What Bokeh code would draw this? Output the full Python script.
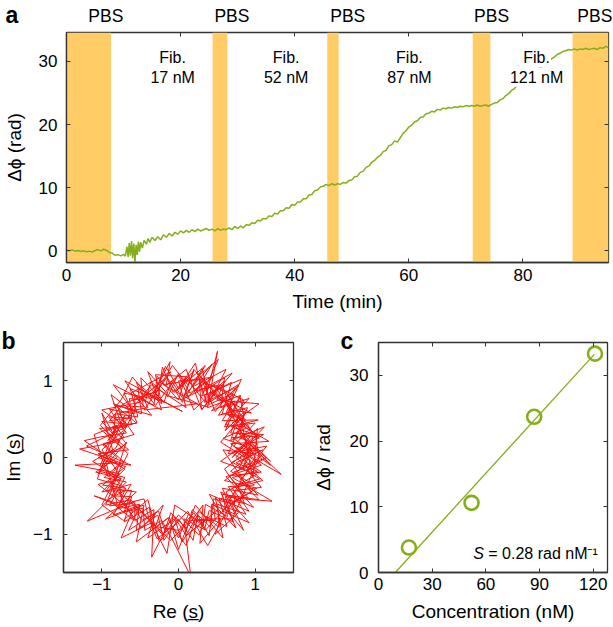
from bokeh.plotting import figure
from bokeh.models import (Range1d, LinearAxis, FixedTicker, BoxAnnotation, Label, Title,
                          CustomJSTickFormatter)
from bokeh.layouts import column, row
from bokeh.embed import file_html
from bokeh.resources import INLINE

FONT = "Liberation Sans"
GREEN = "#84AE1A"
ORANGE = "#FFCC66"
RED = "#FF1010"
FRAME = "#333333"

# ---------------- panel a data ----------------
time_min = [0.0, 0.5, 1.0, 1.5, 2.0, 2.5, 3.0, 3.5, 4.0, 4.5, 5.0, 5.5, 6.0, 6.5, 7.0, 7.5,
            8.0, 8.5, 9.0, 9.5, 10.0, 10.3, 10.6, 10.8, 11.0, 11.2, 11.4, 11.6, 11.8, 12.0,
            12.2, 12.4, 12.6, 12.8, 13.0, 13.3, 13.6, 14.0, 14.3, 14.6, 15.0, 15.5, 16.0,
            16.5, 17.0, 17.5, 18.0, 18.5, 19.0, 19.5, 20.0, 20.5, 21.0, 21.5, 22.0, 22.5,
            23.0, 23.5, 24.0, 24.5, 25.0, 25.5, 26.0, 26.5, 27.0, 27.5, 28.0, 28.5, 29.0,
            29.5, 30.0, 30.5, 31.0, 31.5, 32.0, 32.5, 33.0, 33.5, 34.0, 34.5, 35.0, 35.5,
            36.0, 36.5, 37.0, 37.5, 38.0, 38.5, 39.0, 39.5, 40.0, 40.5, 41.0, 41.5, 42.0,
            42.5, 43.0, 43.5, 44.0, 44.5, 45.0, 45.5, 46.0, 46.5, 47.0, 47.5, 48.0, 48.5,
            49.0, 49.5, 50.0, 50.5, 51.0, 51.5, 52.0, 52.5, 53.0, 53.5, 54.0, 54.5, 55.0,
            55.5, 56.0, 56.5, 57.0, 57.5, 58.0, 58.5, 59.0, 59.5, 60.0, 60.5, 61.0, 61.5,
            62.0, 62.5, 63.0, 63.5, 64.0, 64.5, 65.0, 65.5, 66.0, 66.5, 67.0, 67.5, 68.0,
            68.5, 69.0, 69.5, 70.0, 70.5, 71.0, 71.5, 72.0, 72.5, 73.0, 73.5, 74.0, 74.5,
            75.0, 75.5, 76.0, 76.5, 77.0, 77.5, 78.0, 78.5, 79.0, 79.5, 80.0, 80.5, 81.0,
            81.5, 82.0, 82.5, 83.0, 83.5, 84.0, 84.5, 85.0, 85.5, 86.0, 86.5, 87.0, 87.5,
            88.0, 88.5, 89.0, 89.5, 90.0, 90.5, 91.0, 91.5, 92.0, 92.5, 93.0, 93.5, 94.0,
            94.5, 95.0]
phase_rad = [0.05, -0.05, 0.1, -0.1, 0.0, -0.15, -0.05, -0.2, -0.1, -0.25, 0.0, 0.15, -0.05,
             0.2, 0.05, -0.3, -0.4, -0.75, -0.65, -0.85, -0.6, -0.9, 0.6, -1.0, 1.2, -0.8,
             1.5, -1.2, 1.1, -1.9, 0.9, -0.7, 1.4, -0.2, 1.3, 0.4, 1.6, 1.0, 1.9, 1.3, 2.1,
             1.6, 2.2, 1.7, 2.5, 2.1, 2.7, 2.3, 2.9, 2.6, 3.1, 2.8, 3.2, 2.9, 3.3, 3.0, 3.4,
             3.1, 3.3, 3.5, 3.2, 3.4, 3.1, 3.5, 3.2, 3.4, 3.3, 3.6, 3.3, 3.8, 3.5, 3.9, 3.6,
             4.1, 4.0, 4.4, 4.3, 4.8, 4.7, 5.1, 5.0, 5.5, 5.4, 5.9, 5.8, 6.3, 6.3, 6.8, 6.7,
             7.3, 7.2, 7.7, 7.7, 8.2, 8.2, 8.8, 8.9, 9.5, 9.6, 10.1, 10.2, 10.5, 10.3, 10.6,
             10.4, 10.6, 10.5, 10.8, 10.7, 11.1, 11.2, 11.7, 11.8, 12.4, 12.6, 13.2, 13.4,
             14.0, 14.3, 14.8, 15.1, 15.7, 15.9, 16.6, 16.8, 17.4, 17.2, 17.9, 18.6, 19.0,
             19.6, 19.9, 20.4, 20.6, 21.1, 21.2, 21.7, 21.8, 22.1, 22.0, 22.4, 22.3, 22.6,
             22.5, 22.7, 22.6, 22.8, 22.7, 22.9, 22.8, 23.0, 22.9, 23.0, 22.9, 23.1, 22.9,
             23.0, 23.1, 22.9, 23.2, 23.4, 23.5, 23.9, 24.1, 24.6, 24.9, 25.4, 25.7, 26.2,
             26.5, 26.9, 27.2, 27.6, 27.9, 28.3, 28.6, 29.0, 29.3, 29.7, 30.0, 30.4, 30.7,
             31.1, 31.3, 31.6, 31.7, 31.9, 31.8, 32.0, 31.8, 32.0, 31.9, 32.1, 31.9, 32.0,
             32.1, 31.9, 32.2, 32.1, 32.4, 32.2]

pbs_start = [0.0, 25.6, 45.7, 71.2, 88.7]
pbs_end = [7.8, 28.2, 47.7, 74.3, 95.0]
pbs_label_x = [6.9, 29.0, 49.3, 74.5, 92.6]
fib_label_x = [18.6, 38.5, 60.1, 82.4]
fib_conc_text = ["17 nM", "52 nM", "87 nM", "121 nM"]

# ---------------- panel b data ----------------
re_s = [0.85, 1.03, 0.75, 0.87, 0.65, 0.71, 0.40, 0.36, 0.15, 0.00, -0.14, -0.36, -0.43, -0.64,
        -0.61, -0.91, -0.71, -0.99, -0.80, -1.08, -0.75, -0.87, -0.61, -0.71, -0.38, -0.34,
        -0.14, 0.00, 0.13, 0.32, 0.35, 0.64, 0.57, 0.91, 0.66, 1.08,
        0.70, 1.11, 0.68, 0.78, 0.57, 0.69, 0.38, 0.31, 0.07, -0.09, -0.19, -0.49, -0.46,
        -0.67, -0.61, -1.00, -0.77, -1.29, -0.75, -0.97, -0.68, -1.19, -0.57, -0.57, -0.32,
        -0.35, -0.07, 0.09, 0.18, 0.42, 0.43, 0.74, 0.57, 1.04, 0.72, 1.00,
        1.15, 0.79, 0.94, 1.20, 0.70, 1.06, 0.69, 1.04, 0.57, 0.74, 0.43, 0.77, 0.34, 0.55,
        0.23, 0.44, 0.07, 0.20, -0.07, -0.21, -0.27, -0.53, -0.48, -0.80, -0.69, -1.03,
        -0.74, -1.05, -0.69, -0.99, -0.69, -0.80, -0.51, -0.55, -0.27, -0.19, 0.00, 0.19,
        0.26, 0.53, 0.51, 0.88, 0.65, 0.99, 0.68,
        1.00, 0.74, 1.34, 0.80, 0.86, 0.61, 0.81, 0.38, 0.51, 0.34, 0.09, 0.00, -0.28,
        -0.32, -0.57, -0.57, -0.90, -0.68, -1.01, -1.23, -0.80, -1.35, -0.77, -0.95, -0.61,
        -0.71, -0.46, -0.44, -0.22, -0.09, 0.16, 0.07, 0.34, 0.40, 0.71, 0.61, 0.95, 1.22,
        0.70, 1.03,
        0.75, 1.10, 0.90, 0.68, 1.18, 0.86, 0.61, 0.92, 0.55, 0.60, 0.31, 0.22, 0.00,
        -0.17, -0.31, -0.19, -0.63, -0.53, -0.82, -0.85, -1.00, -0.85, -1.03, -0.70, -0.90,
        -0.60, -0.48, -0.26, -0.17, 0.00, 0.27, 0.36, 0.63, 0.53, 0.86, 0.77, 1.06, 0.70,
        0.95, 0.84, 0.97, 0.70, 1.03, 0.97, 0.82, 0.69, 0.60, 0.27, 0.30, 0.10, -0.16,
        -0.11, -0.36, -0.71, -0.54, -0.86, -0.68, -0.95, -1.06, -0.77, -0.73, -0.45, -0.38,
        -0.28, -0.08, 0.10, 0.22, 0.48, 0.45, 0.73, 0.74, 1.08, 0.89, 1.00]
im_s = [0.00, 0.18, 0.27, 0.50, 0.55, 0.84, 0.69, 0.99, 0.84, 1.10, 0.79, 0.99, 0.74, 0.77,
        0.51, 0.53, 0.26, 0.17, 0.00, -0.19, -0.27, -0.50, -0.51, -0.84, -0.65, -0.94,
        -0.79, -1.05, -0.74, -0.89, -0.61, -0.77, -0.48, -0.53, -0.24, -0.19,
        0.06, 0.30, 0.32, 0.55, 0.57, 0.98, 0.82, 1.16, 0.75, 1.00, 0.72, 1.04, 0.66,
        0.67, 0.43, 0.47, 0.21, 0.11, -0.07, -0.26, -0.32, -0.83, -0.57, -0.82, -0.68,
        -1.30, -0.75, -1.00, -0.68, -0.91, -0.61, -0.74, -0.40, -0.49, -0.19, -0.09,
        0.00, -0.14, 0.17, -0.10, 0.26, 0.28, 0.40, 0.49, 0.48, 0.74, 0.61, 0.92, 0.72, 0.95,
        0.87, 1.22, 0.80, 1.13, 0.85, 1.18, 0.75, 0.91, 0.57, 0.68, 0.40, 0.38,
        0.13, 0.00, -0.12, -0.36, -0.40, -0.67, -0.61, -0.95, -0.75, -1.08, -0.80, -1.08,
        -0.70, -0.91, -0.61, -0.74, -0.38, -0.36, -0.18,
        0.09, 0.13, -0.22, 0.29, 0.60, 0.35, 0.81, 0.65, 1.39, 0.73, 1.05, 0.75, 1.06,
        0.68, 0.82, 0.57, 0.63, 0.32, 0.27, 0.22, -0.07, -0.10, -0.21, -0.44, -0.43,
        -0.71, -0.66, -0.95, -0.82, -1.05, -1.55, -0.80, -0.94, -0.69, -0.84, -0.51, -0.55, -0.57,
        -0.26, -0.18,
        -0.07, 0.10, 0.00, 0.18, 0.21, 0.40, 0.43, 0.77, 0.65, 1.04, 0.85, 1.23, 0.90,
        1.19, 0.85, 0.72, 0.90, 0.53, 0.57, 0.31, 0.58, 0.07, -0.18, -0.26, -0.63,
        -0.60, -0.82, -0.70, -0.98, -0.75, -1.01, -0.77, -0.90, -0.53, -0.60, -0.36, -0.28, -0.06,
        0.08, -0.15, 0.26, 0.00, 0.38, -0.26, 0.48, 0.58, 0.86, 1.01, 0.63, 1.15, 0.94,
        1.25, 0.77, 0.84, 0.45, 0.40, 0.18, 0.00, -0.28, -0.36, -0.61, -0.54, -0.82,
        -1.06, -0.90, -1.15, -0.82, -0.82, -0.54, -0.61, -0.43, -0.39, -0.16, 0.00]
# further passes of the trajectory (Re, Im)
scribble_more = [
    (0.62, 0.70), (0.95, 0.35), (0.55, 0.95), (0.30, 0.62), (0.70, 1.10), (0.10, 0.78),
    (0.45, 1.05), (-0.20, 0.95), (0.25, 0.70), (-0.45, 0.62), (-0.10, 1.12), (-0.60, 0.85),
    (-0.35, 0.55), (-0.85, 0.70), (-0.55, 0.45), (-0.95, 0.35), (-0.65, 0.10), (-1.05, 0.05),
    (-0.70, -0.15), (-1.00, -0.45), (-0.62, -0.35), (-0.85, -0.75), (-0.50, -0.62),
    (-0.65, -0.95), (-0.30, -0.72), (-0.40, -1.05), (-0.05, -0.80), (0.05, -1.10),
    (0.25, -0.75), (0.40, -1.02), (0.45, -0.60), (0.75, -0.92), (0.55, -0.45), (0.98, -0.65),
    (0.62, -0.25), (1.08, -0.10), (0.72, 0.15), (1.00, 0.45), (0.60, 0.40), (0.80, 0.80),
    (0.85, 0.55), (0.55, 0.20), (0.95, -0.05), (0.60, -0.30), (1.02, -0.40), (0.70, -0.60),
    (0.92, -0.85), (0.58, -0.70), (0.88, -0.20), (1.15, 0.15), (0.65, 0.05), (0.90, 0.65),
    (0.52, 0.55), (0.78, 0.95), (0.40, 0.72), (0.62, 1.15), (0.18, 0.92), (0.35, 1.20),
    (-0.05, 0.85), (0.15, 1.05), (-0.30, 1.08), (-0.22, 0.70), (-0.55, 0.98), (-0.40, 0.65),
    (-0.78, 0.58), (-0.58, 0.30), (-0.98, 0.18), (-0.72, -0.05), (-0.92, -0.25), (-1.10, 0.30),
    (-0.80, 0.42), (-1.02, -0.10), (-0.68, -0.42), (-0.92, -0.55), (-0.58, -0.82), (-0.78, -0.45),
    (-0.40, -0.78), (-0.20, -1.02), (-0.10, -0.72), (0.10, -0.92), (0.32, -0.62), (0.28, -1.12),
    (0.55, -0.80), (0.48, -1.00), (0.78, -0.72), (0.66, -0.50), (1.05, -0.55), (0.80, -0.30),
    (1.10, 0.05), (0.78, 0.32), (1.05, 0.25), (0.68, 0.62), (0.95, 0.58), (0.42, 0.85),
    (0.58, 0.72), (0.20, 1.15), (0.05, 0.72), (-0.15, 1.05), (-0.48, 0.78), (-0.25, 0.88),
    (-0.72, 0.70), (-0.90, 0.48), (-0.62, 0.52), (-0.82, 0.12), (-1.12, -0.05), (-0.75, -0.28),
    (-1.05, -0.35), (-0.70, -0.62), (-0.48, -0.92), (-0.20, -0.62), (-0.30, -0.90), (0.00, -0.95),
    (0.20, -0.72), (0.35, -0.95), (0.62, -0.65), (0.85, -0.50), (0.60, -0.15), (0.95, 0.12),
    (0.58, 0.25), (0.88, 0.38), (0.65, 0.82), (0.48, 0.60), (0.30, 1.02), (0.00, 1.00),
    (0.10, 0.65), (-0.35, 0.95), (-0.62, 0.62), (-0.88, 0.82), (-0.72, 0.35), (-1.00, 0.10),
    (-0.78, -0.20), (-0.95, -0.62), (-0.62, -0.55), (-0.45, -0.75), (-0.10, -1.08),
    (0.15, -0.82), (0.45, -0.80), (0.70, -0.80), (0.90, -0.35), (1.05, 0.00),
    (1.00, 0.30), (0.62, 0.58), (0.82, 1.02), (0.30, 0.80), (0.52, 1.28), (0.12, 0.95),
    (-0.08, 1.20), (-0.32, 0.80), (0.05, 0.60), (-0.70, 1.00), (-0.50, 0.72), (-1.00, 0.62),
    (-0.68, 0.40), (-1.20, 0.15), (-0.62, -0.10), (-0.95, -0.05), (-0.80, -0.60), (-1.10, -0.50),
    (-0.60, -0.70), (-0.75, -1.05), (-0.35, -0.85), (-0.15, -1.25), (-0.05, -0.62), (0.30, -0.85),
    (0.10, -1.02), (0.52, -0.68), (0.40, -0.48), (0.92, -0.70), (0.70, -0.40), (1.10, -0.30),
    (0.75, 0.00), (1.12, 0.40), (0.68, 0.22), (0.85, 0.75), (0.45, 0.95), (0.72, 0.60),
    (0.25, 1.10), (0.38, 0.66), (-0.12, 0.80), (-0.40, 1.12), (-0.22, 0.62), (-0.85, 0.95),
    (-0.58, 0.60), (-0.92, 0.22), (-0.70, 0.55), (-1.05, -0.22), (-0.68, 0.20), (-0.88, -0.40),
    (-0.55, -0.45), (-0.95, -0.80), (-0.45, -0.62), (-0.55, -1.10), (-0.12, -0.78), (0.00, -1.20),
    (0.22, -0.62), (0.58, -1.05), (0.48, -0.52), (0.85, -0.95), (0.62, -0.45), (1.02, -0.22),
    (0.55, -0.05), (0.90, 0.20), (1.20, -0.05), (0.70, 0.45), (1.05, 0.70), (0.50, 0.75),
    (0.60, 1.00), (0.20, 0.62), (0.00, 1.08), (-0.30, 0.68), (-0.60, 1.05), (-0.75, 0.75),
    (-1.02, 0.42), (-0.66, 0.05), (-1.00, -0.62), (-0.72, -0.82), (-0.40, -0.55), (-0.25, -1.10),
    (0.12, -0.70), (0.38, -1.15), (0.70, -0.58), (0.95, -0.45), (0.58, 0.10), (0.98, 0.05),
]

# ---------------- panel c data ----------------
conc_nM = [17, 52, 87, 121]
dphi_rad = [3.8, 10.6, 23.7, 33.3]
fit_conc = [9.4, 120.6]
fit_dphi = [0.0, 33.2]

MINUS_FMT = CustomJSTickFormatter(code="return tick < 0 ? '\\u2212' + Math.abs(tick) : String(tick)")


def make_fig(width, height, xr, yr, left, right, top, bottom):
    p = figure(width=width, height=height, x_range=Range1d(*xr), y_range=Range1d(*yr),
               output_backend="svg", toolbar_location=None,
               min_border_left=left, min_border_right=right,
               min_border_top=top, min_border_bottom=bottom)
    p.grid.visible = False
    p.outline_line_color = FRAME
    p.outline_line_width = 1.3
    p.background_fill_color = "white"
    p.border_fill_color = "white"
    return p


def style_axes(p, xticks, yticks, xlabel, ylabel, x_std=(6, 7), y_std=(9, 11),
               minus=False, top_axis=True):
    for ax, ticks, lab in ((p.xaxis[0], xticks, xlabel), (p.yaxis[0], yticks, ylabel)):
        ax.ticker = FixedTicker(ticks=ticks)
        if minus:
            ax.formatter = MINUS_FMT
        ax.axis_label = lab
        ax.axis_label_text_font = FONT
        ax.axis_label_text_font_size = "19px"
        ax.axis_label_text_font_style = "normal"
        ax.axis_label_text_color = "black"
        ax.major_label_text_font = FONT
        ax.major_label_text_font_size = "17px"
        ax.major_label_text_color = "black"
        ax.major_tick_in = 4
        ax.major_tick_out = 0
        ax.major_tick_line_color = FRAME
        ax.minor_tick_line_color = None
        ax.axis_line_color = FRAME
        ax.axis_line_width = 1.3
    p.xaxis[0].major_label_standoff = x_std[0]
    p.xaxis[0].axis_label_standoff = x_std[1]
    p.yaxis[0].major_label_standoff = y_std[0]
    p.yaxis[0].axis_label_standoff = y_std[1]
    # mirrored ticks (minor ticks only, no labels)
    right = LinearAxis(ticker=FixedTicker(ticks=[], minor_ticks=yticks),
                       minor_tick_in=4, minor_tick_out=0, minor_tick_line_color=FRAME,
                       major_tick_in=0, major_tick_out=0, major_tick_line_color=None,
                       axis_line_color=None, major_label_standoff=0)
    p.add_layout(right, "right")
    if top_axis:
        top = LinearAxis(ticker=FixedTicker(ticks=[], minor_ticks=xticks),
                         minor_tick_in=4, minor_tick_out=0, minor_tick_line_color=FRAME,
                         major_tick_in=0, major_tick_out=0, major_tick_line_color=None,
                         axis_line_color=None, major_label_standoff=0)
        p.add_layout(top, "above")


def label(p, x, y, text, size="16px", style="normal", align="center", baseline="middle",
          bg=None, x_offset=0):
    lab = Label(x=x, y=y, text=text, text_font=FONT, text_font_size=size,
                text_font_style=style, text_align=align, text_baseline=baseline,
                text_color="black", x_offset=x_offset)
    if bg:
        lab.background_fill_color = bg
        lab.padding = 1
    p.add_layout(lab)


def panel_letter(p, letter, offset, standoff, valign="middle"):
    p.add_layout(Title(text=letter, align="left", offset=offset, standoff=standoff,
                       vertical_align=valign, text_font=FONT, text_font_size="23px",
                       text_font_style="bold", text_color="black"), "above")


# ---------------- panel a ----------------
pa = make_fig(613, 317, (0, 95), (-1.9, 34.6), 62, 5, 32, 55)
for s, e in zip(pbs_start, pbs_end):
    pa.add_layout(BoxAnnotation(left=s, right=e, fill_color=ORANGE, fill_alpha=1.0,
                                line_color=None, level="underlay"))
pa.line(time_min, phase_rad, line_color=GREEN, line_width=1.5)
style_axes(pa, [0, 20, 40, 60, 80], [0, 10, 20, 30], "Time (min)", "Δϕ (rad)",
           x_std=(6, 7), y_std=(9, 11), top_axis=False)
pbs_axis = LinearAxis(ticker=FixedTicker(ticks=pbs_label_x, minor_ticks=[0, 20, 40, 60, 80]),
                      formatter=CustomJSTickFormatter(code="return 'PBS'"),
                      major_tick_in=0, major_tick_out=0, major_tick_line_color=None,
                      minor_tick_in=4, minor_tick_out=0, minor_tick_line_color=FRAME,
                      axis_line_color=None, major_label_standoff=7,
                      major_label_text_font=FONT, major_label_text_font_size="17.5px",
                      major_label_text_color="black")
pa.add_layout(pbs_axis, "above")
panel_letter(pa, "a", -61, -50, valign="bottom")
for xx, txt in zip(fib_label_x, fib_conc_text):
    label(pa, xx, 30.6, "Fib.", bg="white")
    label(pa, xx, 27.5, txt, bg="white")

# ---------------- panel b ----------------
pb = make_fig(300, 310, (-1.5, 1.5), (-1.5, 1.5), 62, 7, 25, 55)
pb.line(re_s + [pt[0] for pt in scribble_more], im_s + [pt[1] for pt in scribble_more],
        line_color=RED, line_width=1)
style_axes(pb, [-1, 0, 1], [-1, 0, 1], "Re (s\u0332)", "Im (s\u0332)", minus=True,
           x_std=(5, 8), y_std=(11, 6))
panel_letter(pb, "b", -62, -24)

# ---------------- panel c ----------------
pc = make_fig(313, 310, (0, 128), (0, 35), 78, 6, 25, 55)
pc.line(fit_conc, fit_dphi, line_color=GREEN, line_width=1.3)
pc.scatter(conc_nM, dphi_rad, marker="circle", size=14, fill_color=None,
           line_color=GREEN, line_width=2.6)
style_axes(pc, [0, 30, 60, 90, 120], [0, 10, 20, 30], "Concentration (nM)", "Δϕ / rad",
           x_std=(5, 8), y_std=(10, 13))
label(pc, 53.0, 2.93, "S", style="italic", align="left")
label(pc, 53.0, 2.93, "= 0.28 rad nM\u207b\u00b9", align="left", x_offset=15)
panel_letter(pc, "c", -38, -24)

layout = column(pa, row(pb, pc))
open("out.html", "w").write(file_html(layout, INLINE))
